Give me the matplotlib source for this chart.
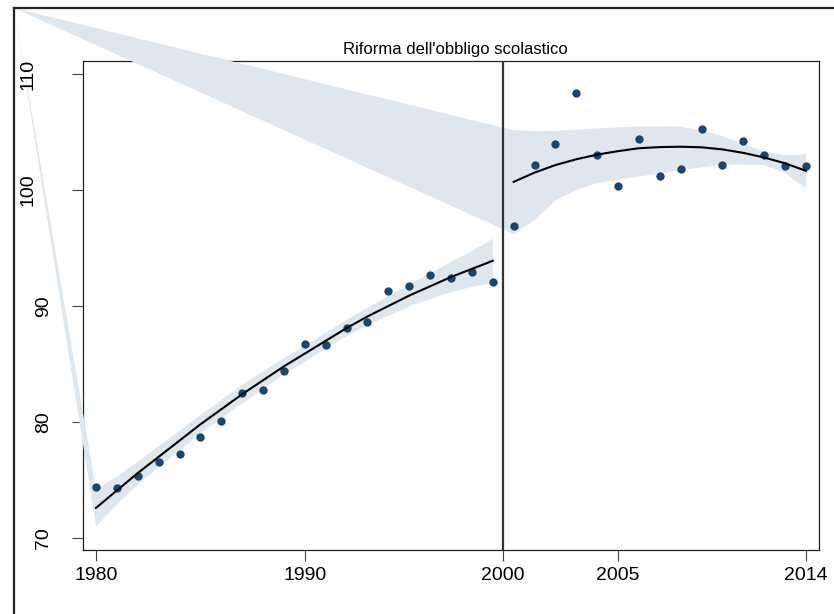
import matplotlib
matplotlib.use("Agg")
from matplotlib import pyplot as plt
from matplotlib.lines import Line2D
from matplotlib.transforms import blended_transform_factory

plt.rcParams["font.family"] = ["Liberation Sans", "DejaVu Sans"]

# prima della riforma
years_pre = list(range(1980, 2000))
values_pre = [74.40, 74.34, 75.37, 76.55, 77.24, 78.73, 80.11, 82.50, 82.78, 84.42,
              86.70, 86.61, 88.08, 88.65, 91.32, 91.72, 92.70, 92.44, 92.96, 92.09]
fit_pre = [72.6, 74.1, 75.6, 77.0, 78.4, 79.8, 81.1, 82.4, 83.6, 84.8,
           85.9, 87.0, 88.1, 89.1, 90.0, 90.9, 91.7, 92.5, 93.2, 93.9]
upper_pre = [74.2, 75.3, 76.6, 77.9, 79.25, 80.6, 81.9, 83.2, 84.35, 85.5,
             86.6, 87.7, 88.8, 89.85, 90.85, 91.85, 92.8, 93.8, 94.75, 95.8]
lower_pre = [71.0, 72.9, 74.6, 76.1, 77.55, 79.0, 80.3, 81.6, 82.85, 84.1,
             85.2, 86.3, 87.4, 88.35, 89.15, 89.95, 90.6, 91.2, 91.65, 92.0]

# dopo la riforma
years_post = list(range(2000, 2015))
values_post = [96.87, 102.13, 103.97, 108.39, 103.02, 100.37, 104.42, 101.23,
               101.84, 105.23, 102.13, 104.25, 102.99, 102.07, 102.04]
fit_post = [100.7, 101.5, 102.15, 102.65, 103.05, 103.35, 103.6, 103.7,
            103.73, 103.68, 103.5, 103.2, 102.8, 102.3, 101.65]
upper_post = [105.15, 105.1, 105.1, 105.2, 105.3, 105.4, 105.5, 105.5,
              105.45, 105.15, 104.65, 103.95, 103.3, 103.0, 103.1]
lower_post = [96.2, 97.4, 99.1, 100.0, 100.6, 100.9, 101.15, 101.45,
              101.7, 101.95, 102.15, 102.2, 102.15, 101.45, 100.15]

cutoff = 1999.5
x_ticks = [1980, 1990, cutoff, 2005, 2014]
x_tick_labels = ["1980", "1990", "2000", "2005", "2014"]
y_ticks = [70, 80, 90, 100, 110]
title = "Riforma dell'obbligo scolastico"

W, H = 834, 614
fig = plt.figure(figsize=(W / 100, H / 100), dpi=100)
ax = fig.add_axes([83 / W, (H - 550) / H, (819 - 83) / W, (550 - 61) / H])

ax.set_xlim(1979.378, 2014.622)
ax.set_ylim(68.97, 111.12)

band_color = "#dde7ed"
dot_color = "#1a476f"

# vertice "fantasma" nell'angolo della cornice esterna
corner_x, corner_y = ax.transData.inverted().transform((14, H - 8))

for yrs, up, lo in [(years_pre, upper_pre, lower_pre), (years_post, upper_post, lower_post)]:
    xs = [corner_x] + yrs + yrs[::-1]
    ys = [corner_y] + up + lo[::-1]
    ax.fill(xs, ys, color=band_color, lw=0, clip_on=False, zorder=3)

ax.axvline(cutoff, color="#333333", lw=1.6, zorder=4)

ax.scatter(years_pre, values_pre, s=36, color=dot_color, zorder=5, lw=0)
ax.scatter(years_post, values_post, s=36, color=dot_color, zorder=5, lw=0)
ax.plot(years_pre, fit_pre, color="black", lw=1.5, zorder=6)
ax.plot(years_post, fit_post, color="black", lw=1.5, zorder=6)

for sp in ax.spines.values():
    sp.set_linewidth(0.9)
    sp.set_color("#222222")

ax.set_xticks(x_ticks, x_tick_labels)
ax.set_yticks(y_ticks, [])
ax.tick_params(axis="x", length=8, width=0.8, pad=4, labelsize=14, color="#444444")
ax.tick_params(axis="y", length=8, width=0.8, color="#444444")

# etichette y verticali: quelle a tre cifre sono spostate a sinistra come nell'originale
ylab_trans = blended_transform_factory(fig.transFigure, ax.transData)
for v in y_ticks:
    right_px = 36 if v >= 100 else 52
    ax.text(right_px / W, v, str(v), transform=ylab_trans, rotation=90,
            ha="right", va="center", fontsize=14)

fig.text(455 / W, 1 - 54 / H, title, ha="center", va="baseline", fontsize=12)

# cornice esterna (tagliata dal bordo dell'immagine)
fig.add_artist(Line2D([14 / W, 1.0], [1 - 8 / H, 1 - 8 / H], transform=fig.transFigure,
                      color="#222222", lw=1.6))
fig.add_artist(Line2D([14 / W, 14 / W], [1 - 8 / H, 0.0], transform=fig.transFigure,
                      color="#222222", lw=1.6))

fig.savefig("out.png", dpi=100)
